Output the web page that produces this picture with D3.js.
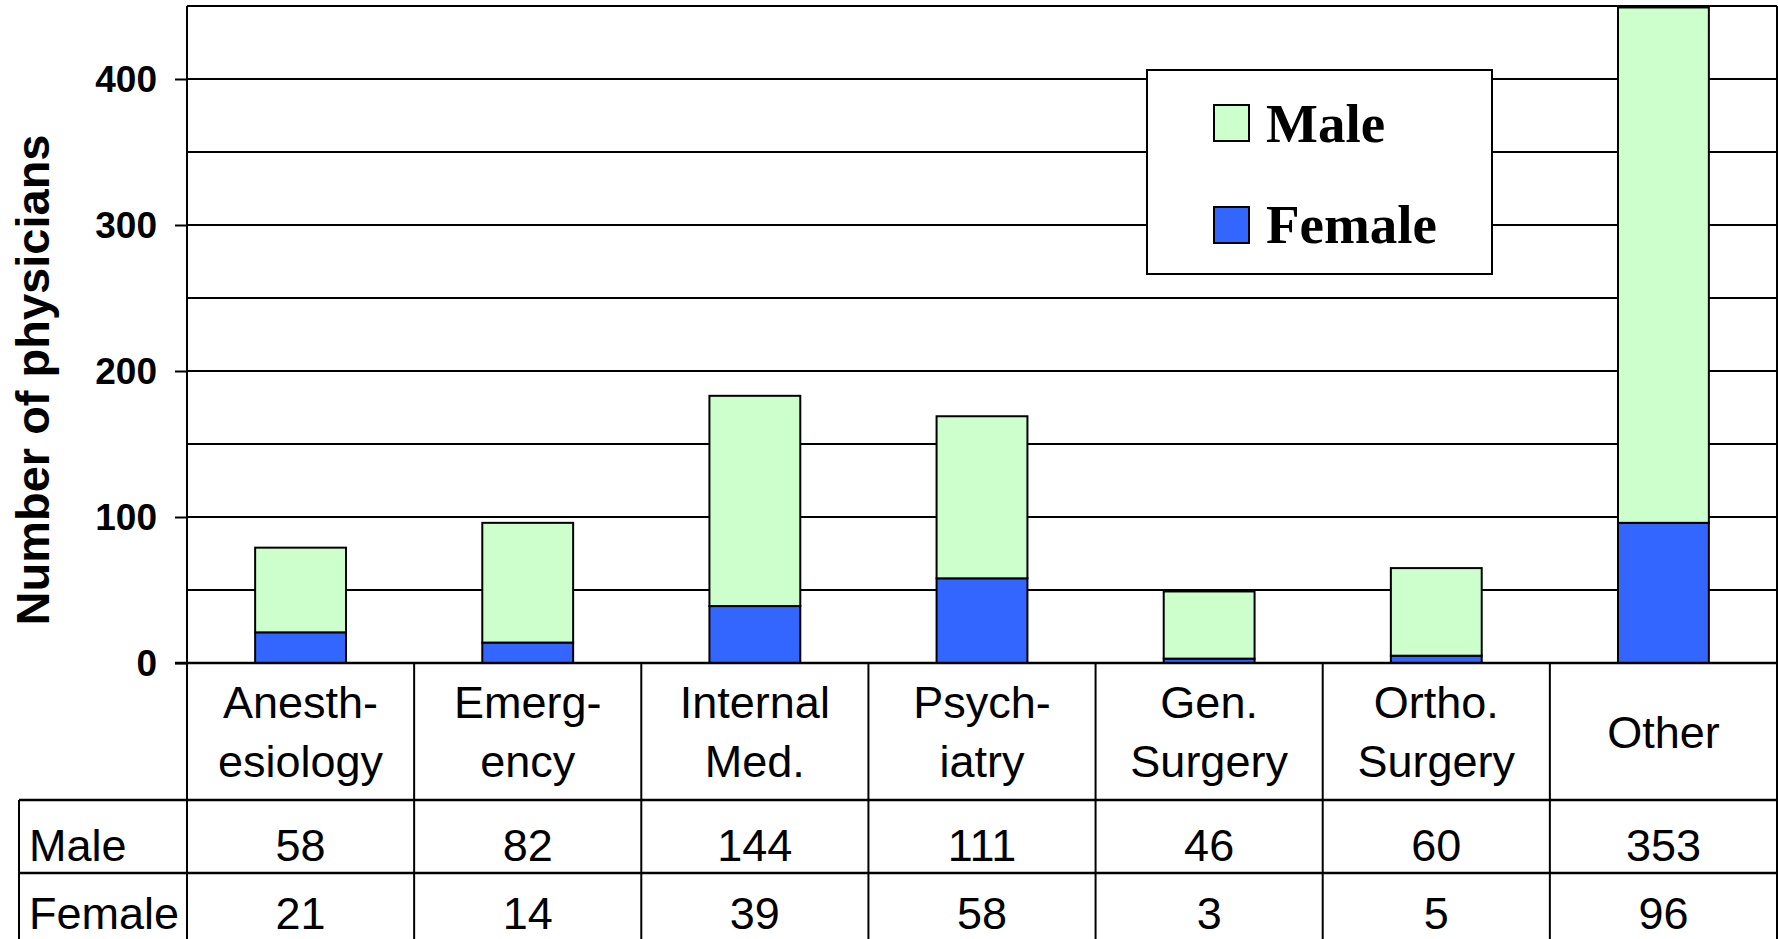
<!DOCTYPE html>
<html><head><meta charset="utf-8">
<script src="https://cdn.jsdelivr.net/npm/d3@7"></script>
<style>html,body{margin:0;padding:0;background:#fff;}svg{display:block;}</style>
</head><body>
<svg id="chart" width="1778" height="939"></svg>
<script>
const categories = ["Anesthesiology","Emergency","Internal Med.","Psychiatry","Gen. Surgery","Ortho. Surgery","Other"];
const categoryLines = [["Anesth-","esiology"],["Emerg-","ency"],["Internal","Med."],["Psych-","iatry"],["Gen.","Surgery"],["Ortho.","Surgery"],["Other"]];
const male = [58, 82, 144, 111, 46, 60, 353];
const female = [21, 14, 39, 58, 3, 5, 96];
const seriesNames = ["Male","Female"];
const yTicks = [0, 100, 200, 300, 400];
const yGrid = [50, 100, 150, 200, 250, 300, 350, 400];

const colMale = "#CCFFCC", colFemale = "#3366FF";
const svg = d3.select("#chart");
const L = 187, R = 1777, T = 6, B = 663;
const headerBottom = 800, rowH = 73, tableLeft = 19;

const y = d3.scaleLinear().domain([0, 450]).range([B, T]);
const col = d3.scaleBand().domain(categories).range([L, R]).padding(0);
const xb = d3.scaleBand().domain(categories).range([L, R]).paddingInner(0.6).paddingOuter(0.3);

// gridlines
svg.append("g").selectAll("line").data(yGrid).join("line")
  .attr("x1", L).attr("x2", R).attr("y1", d => y(d)).attr("y2", d => y(d))
  .attr("stroke", "#000").attr("stroke-width", 2);
// top border
svg.append("line").attr("x1", L).attr("x2", R).attr("y1", y(450)).attr("y2", y(450)).attr("stroke","#000").attr("stroke-width",2);
svg.append("line").attr("x1", R).attr("x2", R).attr("y1", y(450)).attr("y2", 939).attr("stroke","#000").attr("stroke-width",2);

// y axis
const yAxis = d3.axisLeft(y).tickValues(yTicks).tickSize(12).tickPadding(18).tickFormat(d3.format("d"));
const ga = svg.append("g").attr("transform", `translate(${L},0)`).call(yAxis);
ga.select(".domain").remove();
ga.selectAll(".tick line").attr("stroke","#000").attr("stroke-width",2);
ga.selectAll(".tick text").attr("font-family","Arial, 'Liberation Sans', sans-serif")
  .attr("font-weight","bold").attr("font-size",37).attr("fill","#000").attr("dy","0.35em");
svg.append("line").attr("x1", L).attr("x2", L).attr("y1", T).attr("y2", 939).attr("stroke","#000").attr("stroke-width",2);

// bars
const g = svg.append("g");
g.selectAll("rect.f").data(categories).join("rect").attr("class","f")
  .attr("x", d => xb(d)).attr("width", xb.bandwidth())
  .attr("y", (d,i) => y(female[i])).attr("height", (d,i) => y(0) - y(female[i]))
  .attr("fill", colFemale).attr("stroke","#000").attr("stroke-width",2);
g.selectAll("rect.m").data(categories).join("rect").attr("class","m")
  .attr("x", d => xb(d)).attr("width", xb.bandwidth())
  .attr("y", (d,i) => y(female[i] + male[i])).attr("height", (d,i) => y(female[i]) - y(female[i] + male[i]))
  .attr("fill", colMale).attr("stroke","#000").attr("stroke-width",2);

// baseline
svg.append("line").attr("x1", L - 12).attr("x2", R).attr("y1", B).attr("y2", B).attr("stroke","#000").attr("stroke-width",2.5);

// y title
svg.append("text").attr("transform", `translate(49,${(136+624)/2}) rotate(-90)`)
  .attr("text-anchor","middle").attr("font-family","Arial, 'Liberation Sans', sans-serif")
  .attr("font-weight","bold").attr("font-size",47).text("Number of physicians");

// data table
const font = "Arial, 'Liberation Sans', sans-serif";
const tg = svg.append("g");
const colEdges = categories.map(d => col(d)).concat([R]);
tg.selectAll("line.v").data(colEdges).join("line").attr("class","v")
  .attr("x1", d => d).attr("x2", d => d).attr("y1", B).attr("y2", 939)
  .attr("stroke","#000").attr("stroke-width",2);
tg.append("line").attr("x1", tableLeft).attr("x2", tableLeft).attr("y1", headerBottom).attr("y2", 939).attr("stroke","#000").attr("stroke-width",2);
[headerBottom, headerBottom + rowH].forEach(yy => {
  tg.append("line").attr("x1", tableLeft).attr("x2", R).attr("y1", yy).attr("y2", yy).attr("stroke","#000").attr("stroke-width",2.5);
});
categoryLines.forEach((lines, i) => {
  const cx = col(categories[i]) + col.bandwidth() / 2;
  const t = tg.append("text").attr("text-anchor","middle").attr("font-family",font).attr("font-size",45);
  const base = lines.length === 2 ? 718 : 748;
  lines.forEach((ln, j) => t.append("tspan").attr("x", cx).attr("y", base + j * 59).text(ln));
});
[male, female].forEach((vals, r) => {
  const by = r === 0 ? 861 : 929;
  tg.append("text").attr("x", 29).attr("y", by).attr("font-family",font).attr("font-size",45).text(seriesNames[r]);
  tg.selectAll(null).data(vals).join("text")
    .attr("x", (d,i) => col(categories[i]) + col.bandwidth()/2).attr("y", by)
    .attr("text-anchor","middle").attr("font-family",font).attr("font-size",45).text(d => d);
});

// legend
const lg = svg.append("g");
lg.append("rect").attr("x",1147).attr("y",70).attr("width",345).attr("height",204)
  .attr("fill","#fff").attr("stroke","#000").attr("stroke-width",2);
[[colMale, 105, 142], [colFemale, 207, 243]].forEach(([c, sy, ty], i) => {
  lg.append("rect").attr("x",1214).attr("y",sy).attr("width",35).attr("height",36)
    .attr("fill",c).attr("stroke","#000").attr("stroke-width",2);
  lg.append("text").attr("x",1266).attr("y",ty).attr("font-family","'Times New Roman','Liberation Serif',serif")
    .attr("font-weight","bold").attr("font-size",55).text(seriesNames[i]);
});
</script>
</body></html>
